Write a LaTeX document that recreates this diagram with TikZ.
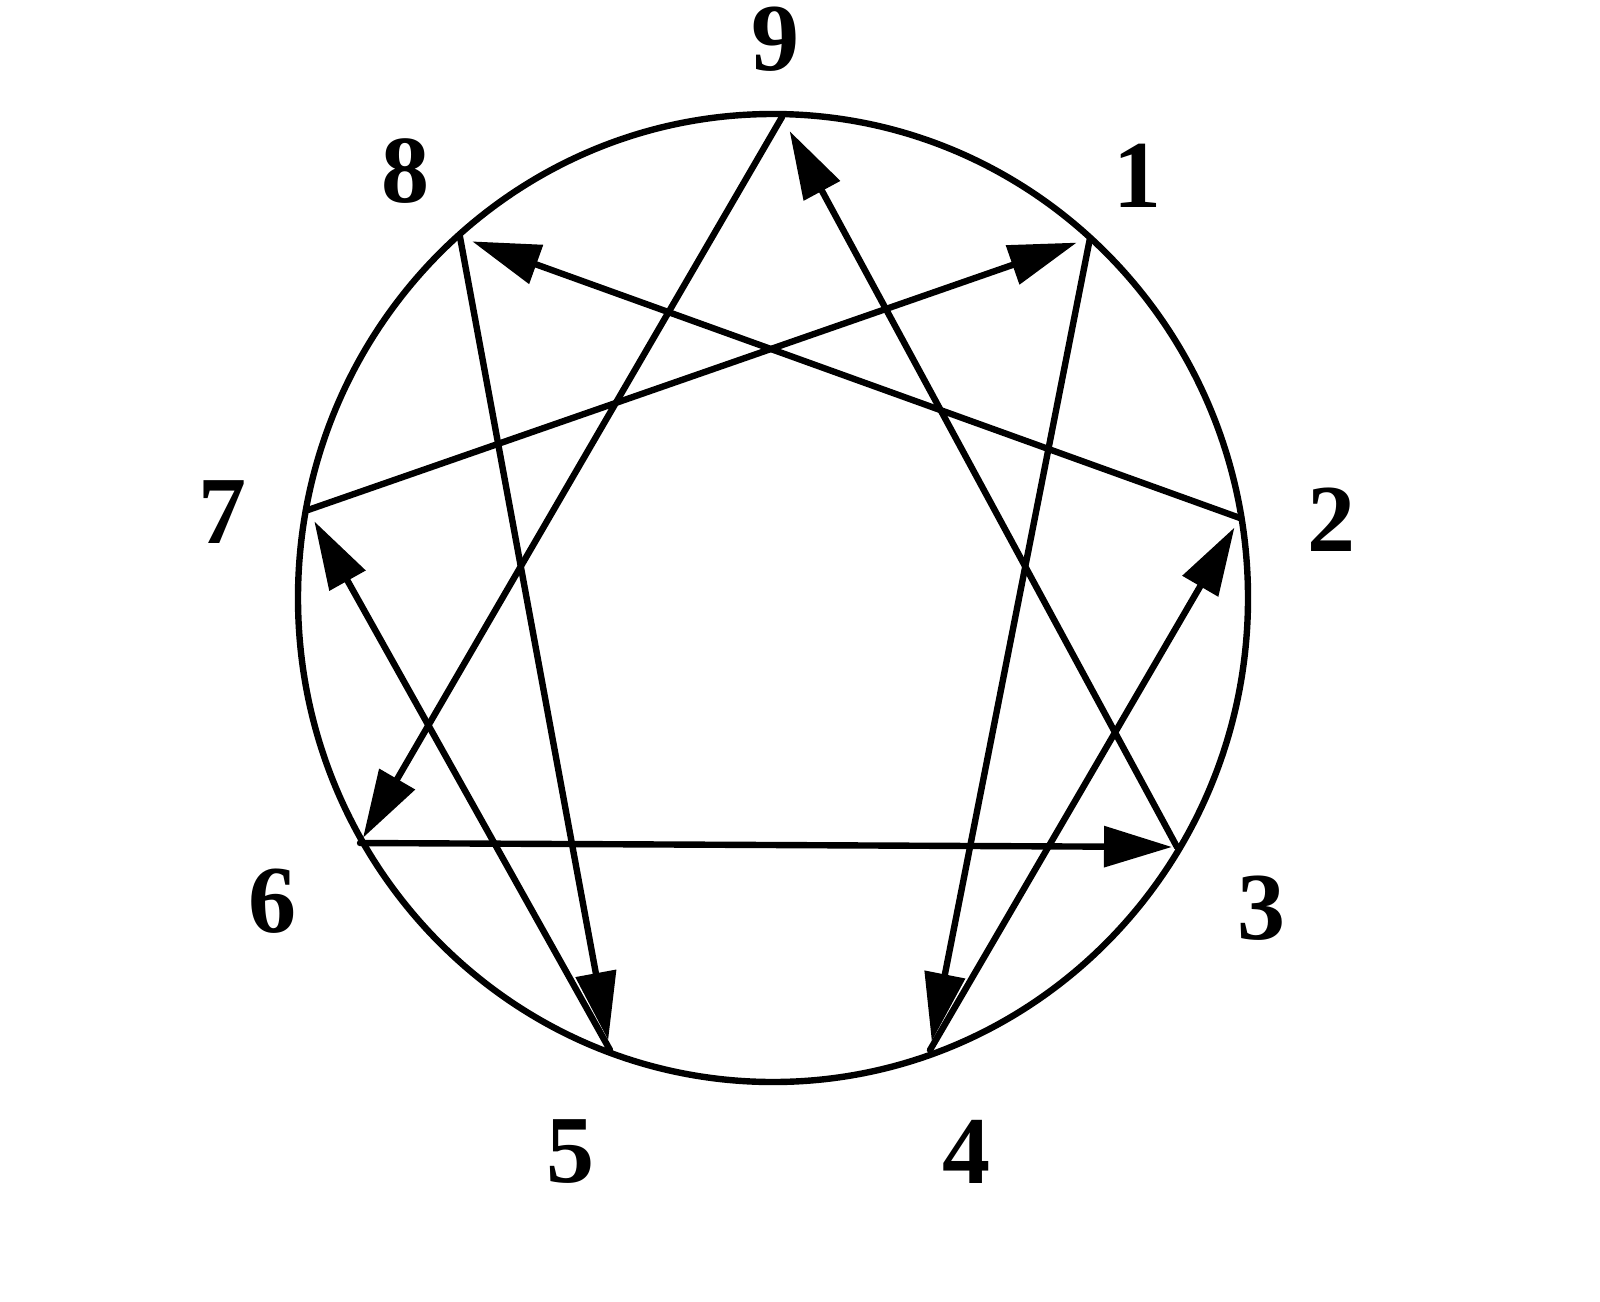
\documentclass[tikz,border=0pt]{standalone}
\usepackage{fontspec}
\setmainfont{Liberation Serif}
\usetikzlibrary{arrows.meta}
\begin{document}
\begin{tikzpicture}[x=0.5pt,y=-0.5pt,
  ln/.style={line width=3.2pt, line cap=round, line join=round},
  arr/.style={ln, -{Triangle[length=34pt,width=20pt]}},
  lbl/.style={inner sep=0pt, font=\fontsize{48}{48}\selectfont\bfseries}]
\useasboundingbox (0,0) rectangle (1600,1301);
% circle
\draw[ln] (773,598) ellipse [x radius=475, y radius=484];
% points on the circle
\coordinate (p9) at (782,117);
\coordinate (p1) at (1090,238);
\coordinate (p2) at (1240,518);
\coordinate (p3) at (1177,847);
\coordinate (p4) at (930,1050);
\coordinate (p5) at (610,1050);
\coordinate (p6) at (360,843);
\coordinate (p7) at (308,510);
\coordinate (p8) at (460,237);
% labels
\node[lbl] (l9) at (775,39) {9};
\node[lbl] (l1) at (1137,176) {1};
\node[lbl] (l2) at (1331,520) {2};
\node[lbl] (l3) at (1261,908) {3};
\node[lbl] (l4) at (966,1152) {4};
\node[lbl] (l5) at (570,1152) {5};
\node[lbl] (l6) at (272,901) {6};
\node[lbl] (l7) at (222,512) {7};
\node[lbl] (l8) at (405,171) {8};
% arrows
\draw[arr, shorten >=8pt] (p3) -- (p9);
\draw[arr, shorten >=3pt] (p9) -- (p6);
\draw[arr, shorten >=2.5pt] (p6) -- (p3);
\draw[arr, shorten >=5pt] (p8) -- (p5);
\draw[arr, shorten >=4.5pt] (p1) -- (p4);
\draw[arr, shorten >=5.5pt] (p4) -- (p2);
\draw[arr, shorten >=6.5pt] (p2) -- (p8);
\draw[arr, shorten >=7pt] (p7) -- (p1);
\draw[arr, shorten >=6.5pt] (p5) -- (p7);
\end{tikzpicture}
\end{document}
